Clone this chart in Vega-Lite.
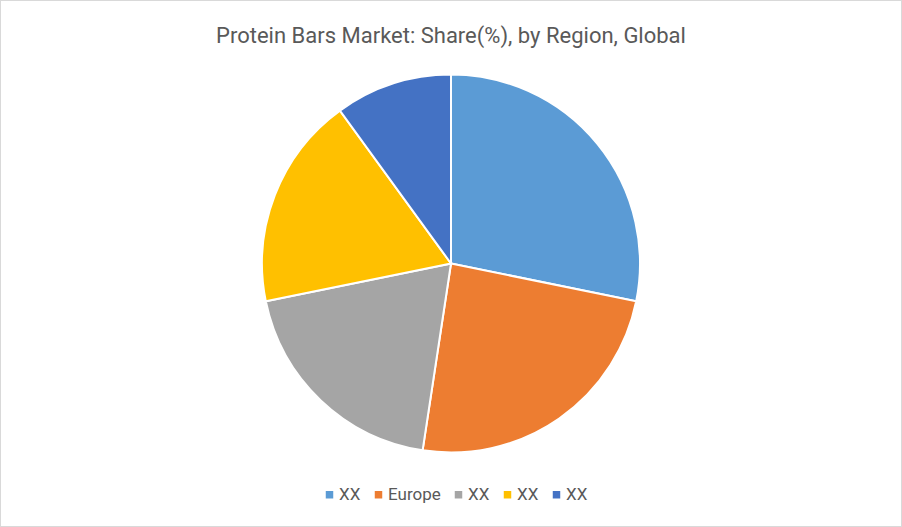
{
  "$schema": "https://vega.github.io/schema/vega-lite/v6.json",
  "width": 902,
  "height": 527,
  "autosize": {"type": "fit", "contains": "padding"},
  "padding": 0,
  "background": "white",
  "view": {"stroke": "#d9d9d9", "strokeWidth": 2, "fill": "white"},
  "config": {
    "font": "Roboto"
  },
  "title": {
    "text": "Protein Bars Market: Share(%), by Region, Global",
    "font": "Roboto",
    "fontSize": 22,
    "fontWeight": "normal",
    "color": "#595959",
    "anchor": "middle",
    "baseline": "alphabetic",
    "offset": -65
  },
  "data": {
    "values": [
      {"region": "XX-1", "share": 28.2, "order": 1},
      {"region": "Europe", "share": 24.2, "order": 2},
      {"region": "XX-3", "share": 19.4, "order": 3},
      {"region": "XX-4", "share": 18.2, "order": 4},
      {"region": "XX-5", "share": 10.0, "order": 5}
    ]
  },
  "mark": {"type": "arc", "outerRadius": 189, "stroke": "white", "strokeWidth": 2},
  "encoding": {
    "theta": {"field": "share", "type": "quantitative", "stack": true},
    "order": {"field": "order", "type": "quantitative"},
    "color": {
      "field": "region",
      "type": "nominal",
      "scale": {
        "domain": ["XX-1", "Europe", "XX-3", "XX-4", "XX-5"],
        "range": ["#5B9BD5", "#ED7D31", "#A5A5A5", "#FFC000", "#4472C4"]
      },
      "legend": {
        "title": null,
        "orient": "none",
        "direction": "horizontal",
        "legendX": 321,
        "legendY": 486,
        "symbolType": "square",
        "symbolSize": 56,
        "symbolStrokeWidth": 0,
        "labelFont": "Roboto",
        "labelFontSize": 17,
        "labelColor": "#595959",
        "labelOffset": 1,
        "columnPadding": 9,
        "labelExpr": "datum.value == 'Europe' ? 'Europe' : 'XX'"
      }
    }
  }
}
